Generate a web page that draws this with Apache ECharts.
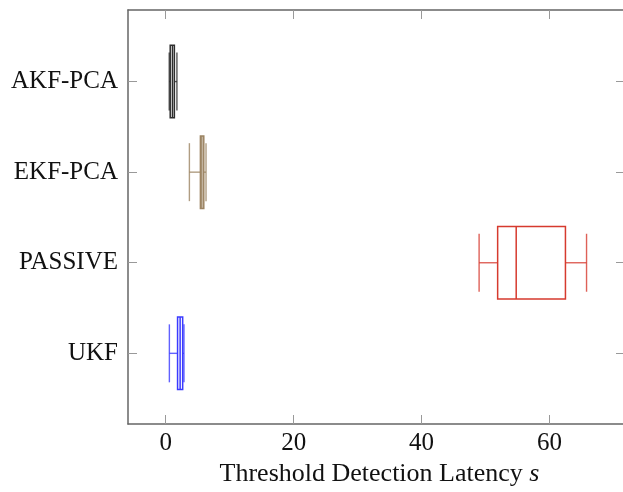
<!DOCTYPE html>
<html>
<head>
<meta charset="utf-8">
<script src="https://cdn.jsdelivr.net/npm/echarts@6/dist/echarts.min.js"></script>
<style>
  html, body { margin: 0; padding: 0; background: #fff; }
  #chart { width: 623px; height: 492px; }
</style>
</head>
<body>
<div id="chart"></div>
<script>
// categories from top to bottom, placed at y = 1..4
const categories = ['AKF-PCA', 'EKF-PCA', 'PASSIVE', 'UKF']
const lows    = [0.55, 3.7, 49.0, 0.57]
const q1s     = [0.7, 5.42, 51.9, 1.85]
const medians = [1.05, 5.65, 54.8, 2.25]
const q3s     = [1.35, 5.95, 62.5, 2.65]
const highs   = [1.75, 6.3, 65.8, 2.85]
const xTicks  = [0, 20, 40, 60]

const colors = ['#2e2e2e', '#9c8463', '#d63a2e', '#3a3aff']
const FONT = 'Liberation Serif'

const boxData = categories.map((c, i) => [i + 1, lows[i], q1s[i], medians[i], q3s[i], highs[i]])
const catPos = categories.map((c, i) => i + 1)

function renderBox(params, api) {
  const y = api.value(0)
  const lo = api.coord([api.value(1), y])
  const q1 = api.coord([api.value(2), y])
  const md = api.coord([api.value(3), y])
  const q3 = api.coord([api.value(4), y])
  const hi = api.coord([api.value(5), y])
  const boxH = api.size([0, 0.8])[1]
  const capH = api.size([0, 0.64])[1]
  const col = colors[params.dataIndex]
  const boxStyle = {stroke: col, lineWidth: 1.5, fill: 'none'}
  const whiskStyle = {stroke: col, lineWidth: 1.4, opacity: 0.8}
  const cy = lo[1]
  return {
    type: 'group',
    children: [
      {type: 'line', shape: {x1: lo[0], y1: cy, x2: q1[0], y2: cy}, style: whiskStyle},
      {type: 'line', shape: {x1: lo[0], y1: cy - capH / 2, x2: lo[0], y2: cy + capH / 2}, style: whiskStyle},
      {type: 'line', shape: {x1: q3[0], y1: cy, x2: hi[0], y2: cy}, style: whiskStyle},
      {type: 'line', shape: {x1: hi[0], y1: cy - capH / 2, x2: hi[0], y2: cy + capH / 2}, style: whiskStyle},
      {type: 'rect', shape: {x: q1[0], y: cy - boxH / 2, width: q3[0] - q1[0], height: boxH}, style: boxStyle},
      {type: 'line', shape: {x1: md[0], y1: cy - boxH / 2, x2: md[0], y2: cy + boxH / 2}, style: boxStyle}
    ]
  }
}

const axisLine = {show: true, onZero: false, lineStyle: {color: '#666', width: 1.5}}
const tick = {show: true, inside: true, length: 9, lineStyle: {color: '#999', width: 1}}

const chart = echarts.init(document.getElementById('chart'), null, {renderer: 'canvas'})
chart.setOption({
  animation: false,
  grid: {left: 128, top: 10, right: 0, bottom: 68},
  xAxis: [
    {
      type: 'value', min: -5.9, max: 71.5, position: 'bottom',
      axisLine: axisLine,
      axisTick: Object.assign({customValues: xTicks}, tick),
      axisLabel: {customValues: xTicks, fontFamily: FONT, fontSize: 25, color: '#111', margin: 7},
      splitLine: {show: false},
      name: 'Threshold Detection Latency {i|s}',
      nameLocation: 'middle', nameGap: 35,
      nameTextStyle: {fontFamily: FONT, fontSize: 26, color: '#111', padding: [0, 0, 0, 8],
        rich: {i: {fontFamily: FONT, fontStyle: 'italic', fontSize: 26, color: '#111'}}}
    },
    {
      type: 'value', min: -5.9, max: 71.5, position: 'top',
      axisLine: axisLine,
      axisTick: Object.assign({customValues: xTicks}, tick),
      axisLabel: {show: false}, splitLine: {show: false}
    }
  ],
  yAxis: [
    {
      type: 'value', min: 0.21, max: 4.78, inverse: true, position: 'left',
      axisLine: axisLine,
      axisTick: Object.assign({customValues: catPos}, tick),
      axisLabel: {
        customValues: catPos, fontFamily: FONT, fontSize: 25, color: '#111', margin: 10,
        formatter: v => categories[Math.round(v) - 1] || ''
      },
      splitLine: {show: false}
    },
    {
      type: 'value', min: 0.21, max: 4.78, inverse: true, position: 'right',
      axisLine: {show: true, onZero: false, lineStyle: {color: '#fff', width: 0, opacity: 0}},
      axisTick: {show: true, inside: true, length: 7, customValues: catPos, lineStyle: {color: '#999', width: 1}},
      axisLabel: {show: false}, splitLine: {show: false}
    }
  ],
  series: [{
    type: 'custom',
    xAxisIndex: 0, yAxisIndex: 0,
    renderItem: renderBox,
    encode: {x: [1, 2, 3, 4, 5], y: 0},
    data: boxData
  }]
})
</script>
</body>
</html>
